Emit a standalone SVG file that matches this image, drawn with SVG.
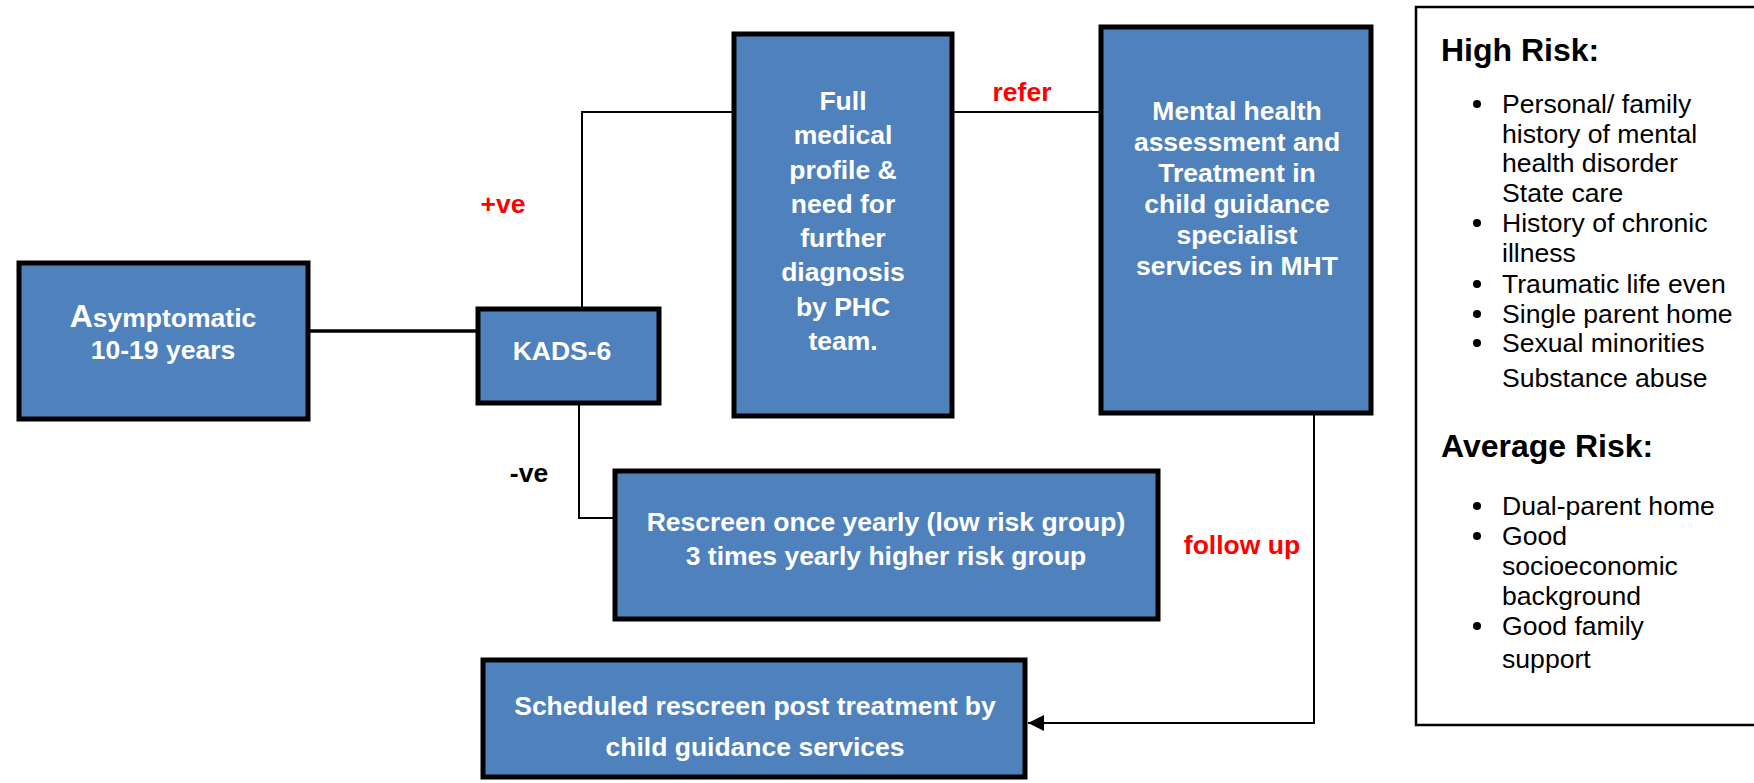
<svg xmlns="http://www.w3.org/2000/svg" width="1754" height="783" viewBox="0 0 1754 783">
  <style>
    .box { fill: #4f81bd; stroke: #000; stroke-width: 5; }
    .panel { fill: #fff; stroke: #000; stroke-width: 2.5; }
    .wire { fill: none; stroke: #000; stroke-width: 2; }
    .wire-thick { fill: none; stroke: #000; stroke-width: 3.5; }
    .lbl { font-family: "Liberation Sans", Arial, sans-serif; font-weight: bold; fill: #fff; text-anchor: middle; font-size: 26.5px; }
    .tag { font-family: "Liberation Sans", Arial, sans-serif; font-weight: bold; font-size: 26.5px; text-anchor: middle; }
    .red { fill: #ff0000; }
    .head { font-family: "Liberation Sans", Arial, sans-serif; font-weight: bold; font-size: 32px; fill: #000; }
    .item { font-family: "Liberation Sans", Arial, sans-serif; font-size: 26.6px; fill: #000; }
  </style>
  <defs>
    <marker id="arrow" viewBox="0 0 10 10" refX="10" refY="5" markerWidth="16" markerHeight="16" markerUnits="userSpaceOnUse" orient="auto">
      <path d="M0,0 L10,5 L0,10 z" fill="#000"/>
    </marker>
  </defs>

  <g id="connectors">
    <path class="wire-thick" d="M308,331 H478"/>
    <path class="wire" d="M582,309 V112 H734"/>
    <path class="wire" d="M579,403 V518 H615"/>
    <path class="wire" d="M952,112 H1101"/>
    <path class="wire" d="M1314,413 V723 H1028" marker-end="url(#arrow)"/>
    <text class="tag red" x="503" y="213">+ve</text>
    <text class="tag" x="529" y="482" fill="#000">-ve</text>
    <text class="tag red" x="1022" y="101">refer</text>
    <text class="tag red" x="1242" y="554">follow up</text>
  </g>

  <g id="asymptomatic">
    <rect class="box" x="19" y="263" width="289" height="156"/>
    <text class="lbl" x="163" y="327"><tspan font-size="32">A</tspan>symptomatic</text>
    <text class="lbl" x="163" y="359">10-19 years</text>
  </g>

  <g id="kads">
    <rect class="box" x="478" y="309" width="181" height="94"/>
    <text class="lbl" x="562" y="360">KADS-6</text>
  </g>

  <g id="medical-profile">
    <rect class="box" x="734" y="34" width="218" height="382"/>
    <text class="lbl" x="843" y="110">Full</text>
    <text class="lbl" x="843" y="144">medical</text>
    <text class="lbl" x="843" y="179">profile &amp;</text>
    <text class="lbl" x="843" y="213">need for</text>
    <text class="lbl" x="843" y="247">further</text>
    <text class="lbl" x="843" y="281">diagnosis</text>
    <text class="lbl" x="843" y="316">by PHC</text>
    <text class="lbl" x="843" y="350">team.</text>
  </g>

  <g id="mental-health">
    <rect class="box" x="1101" y="27" width="270" height="386"/>
    <text class="lbl" x="1237" y="120">Mental health</text>
    <text class="lbl" x="1237" y="151">assessment and</text>
    <text class="lbl" x="1237" y="182">Treatment in</text>
    <text class="lbl" x="1237" y="213">child guidance</text>
    <text class="lbl" x="1237" y="244">specialist</text>
    <text class="lbl" x="1237" y="275">services in MHT</text>
  </g>

  <g id="rescreen">
    <rect class="box" x="615" y="471" width="543" height="148"/>
    <text class="lbl" x="886" y="531">Rescreen once yearly (low risk group)</text>
    <text class="lbl" x="886" y="565">3 times yearly higher risk group</text>
  </g>

  <g id="scheduled">
    <rect class="box" x="483" y="660" width="542" height="117"/>
    <text class="lbl" x="755" y="715">Scheduled rescreen post treatment by</text>
    <text class="lbl" x="755" y="756">child guidance services</text>
  </g>

  <g id="risk-panel">
    <rect class="panel" x="1416" y="7" width="345" height="718"/>
    <text class="head" x="1441" y="61">High Risk:</text>
    <g class="item">
      <circle cx="1477" cy="104" r="4"/>
      <text x="1502" y="113">Personal/ family</text>
      <text x="1502" y="143">history of mental</text>
      <text x="1502" y="172">health disorder</text>
      <text x="1502" y="202">State care</text>
      <circle cx="1477" cy="223" r="4"/>
      <text x="1502" y="232">History of chronic</text>
      <text x="1502" y="262">illness</text>
      <circle cx="1477" cy="284" r="4"/>
      <text x="1502" y="293">Traumatic life even</text>
      <circle cx="1477" cy="314" r="4"/>
      <text x="1502" y="323">Single parent home</text>
      <circle cx="1477" cy="343" r="4"/>
      <text x="1502" y="352">Sexual minorities</text>
      <text x="1502" y="387">Substance abuse</text>
    </g>
    <text class="head" x="1441" y="457">Average Risk:</text>
    <g class="item">
      <circle cx="1477" cy="506" r="4"/>
      <text x="1502" y="515">Dual-parent home</text>
      <circle cx="1477" cy="536" r="4"/>
      <text x="1502" y="545">Good</text>
      <text x="1502" y="575">socioeconomic</text>
      <text x="1502" y="605">background</text>
      <circle cx="1477" cy="626" r="4"/>
      <text x="1502" y="635">Good family</text>
      <text x="1502" y="668">support</text>
    </g>
  </g>
</svg>
